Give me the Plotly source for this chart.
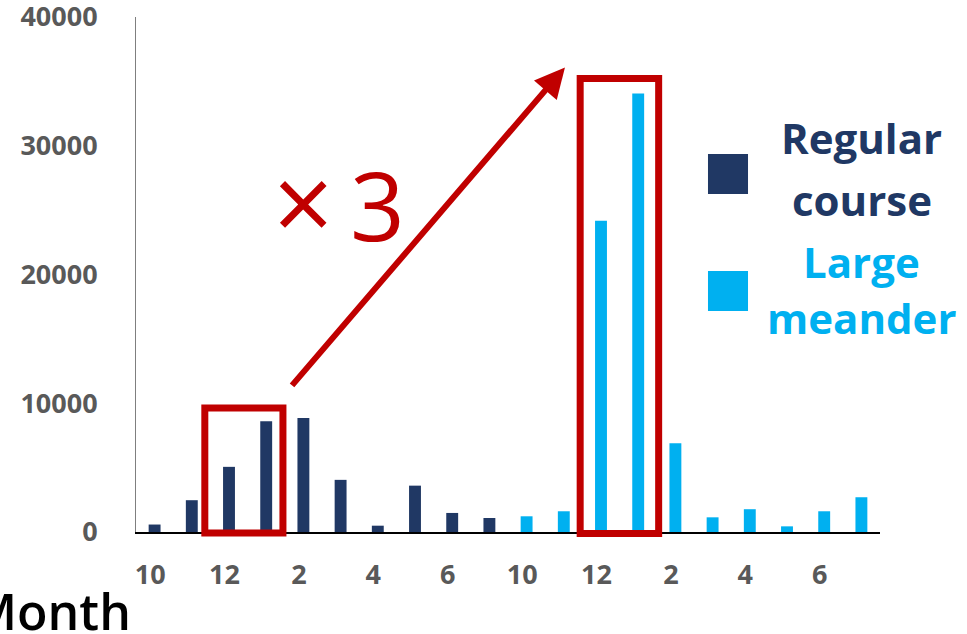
import plotly.graph_objects as go

# ---- data ----
months_regular = ["10", "11", "12", "1", "2", "3", "4", "5", "6", "7"]
regular_course = [580, 2470, 5060, 8610, 8850, 4050, 490, 3600, 1480, 1090]
months_meander = ["10", "11", "12", "1", "2", "3", "4", "5", "6", "7"]
large_meander = [1220, 1610, 24180, 34060, 6900, 1140, 1770, 440, 1610, 2700]
y_ticks = [0, 10000, 20000, 30000, 40000]
YMAX = 40000

DARK = "#203864"
LIGHT = "#00B0F0"
RED = "#C00000"
GRAY = "#595959"
FONT = "Open Sans"

all_months = months_regular + months_meander
n_reg = len(months_regular)
x_reg = list(range(n_reg))
x_mea = list(range(n_reg, n_reg + len(months_meander)))

fig = go.Figure()
fig.add_trace(go.Bar(x=x_reg, y=regular_course, name="Regular course",
                     marker=dict(color=DARK, line=dict(width=0)), width=0.32))
fig.add_trace(go.Bar(x=x_mea, y=large_meander, name="Large meander",
                     marker=dict(color=LIGHT, line=dict(width=0)), width=0.32))

tick_idx = list(range(0, len(all_months), 2))
fig.update_layout(
    width=967, height=634,
    margin=dict(l=136, r=87, t=17, b=102, autoexpand=False),
    paper_bgcolor="white", plot_bgcolor="white",
    barmode="overlay", showlegend=False,
    font=dict(family=FONT),
    xaxis=dict(range=[-0.5, len(all_months) - 0.5],
               tickvals=[i - 0.12 for i in tick_idx],
               ticktext=[all_months[i] for i in tick_idx],
               showline=True, linecolor="black", linewidth=2,
               showgrid=False, zeroline=False, ticks="", automargin=False,
               ticklabelstandoff=18, ticklabeloverflow="allow",
               tickfont=dict(size=27, color=GRAY, family=FONT, weight="bold")),
    yaxis=dict(range=[0, YMAX], tickvals=y_ticks,
               ticktext=[str(v) for v in y_ticks],
               showline=True, linecolor="#7F7F7F", linewidth=1,
               showgrid=False, zeroline=False, ticks="", automargin=False,
               ticklabelstandoff=32, ticklabeloverflow="allow",
               tickfont=dict(size=27, color=GRAY, family=FONT, weight="bold")),
)

# red highlight boxes (x in data units, y in paper = value / YMAX)
fig.add_shape(type="rect", xref="x", yref="paper", x0=1.35, x1=3.45,
              y0=-0.002, y1=9630 / YMAX, line=dict(color=RED, width=7))
fig.add_shape(type="rect", xref="x", yref="paper", x0=11.44, x1=13.55,
              y0=-0.003, y1=35220 / YMAX, line=dict(color=RED, width=7))

# arrow
fig.add_annotation(x=11.03, y=36080, ax=3.66, ay=11270,
                   xref="x", yref="y", axref="x", ayref="y",
                   text="", showarrow=True, arrowhead=2, arrowsize=1,
                   arrowwidth=6, arrowcolor=RED, standoff=0)
fig.add_annotation(x=(303 - 136) / 744, y=(532 - 201) / 515, xref="paper", yref="paper",
                   text="×", showarrow=False, xanchor="center", yanchor="middle",
                   font=dict(size=106, color=RED, family=FONT))
fig.add_annotation(x=(377.5 - 136) / 744, y=(532 - 203) / 515, xref="paper", yref="paper",
                   text="3", showarrow=False, xanchor="center", yanchor="middle",
                   font=dict(size=96, color=RED, family=FONT, weight=500))

# legend (manual)
fig.add_shape(type="rect", xref="paper", yref="paper", x0=0.7688, x1=0.8226,
              y0=0.6563, y1=0.7340, fillcolor=DARK, line=dict(width=0))
fig.add_shape(type="rect", xref="paper", yref="paper", x0=0.7688, x1=0.8226,
              y0=0.4291, y1=0.5068, fillcolor=LIGHT, line=dict(width=0))
for txt, yy, col in [("Regular", 0.766, DARK), ("course", 0.6456, DARK),
                     ("Large", 0.5262, LIGHT), ("meander", 0.4165, LIGHT)]:
    fig.add_annotation(x=0.9758, y=yy, xref="paper", yref="paper", text=txt,
                       showarrow=False, xanchor="center", yanchor="middle",
                       font=dict(size=42, color=col, family=FONT, weight="bold"))

# cropped axis titles
fig.add_annotation(x=-0.004, y=-0.1526, xref="paper", yref="paper", text="Month",
                   showarrow=False, xanchor="right", yanchor="middle",
                   font=dict(size=50, color="black", family=FONT, weight=600))
fig.add_annotation(x=0.0974, y=1.0512, xref="paper", yref="paper", text="p",
                   showarrow=False, xanchor="left", yanchor="bottom",
                   font=dict(size=50, color="black", family=FONT, weight="bold"))

fig.write_html("out.html", config={"displayModeBar": False},
               post_script="document.body.style.margin='0';")
